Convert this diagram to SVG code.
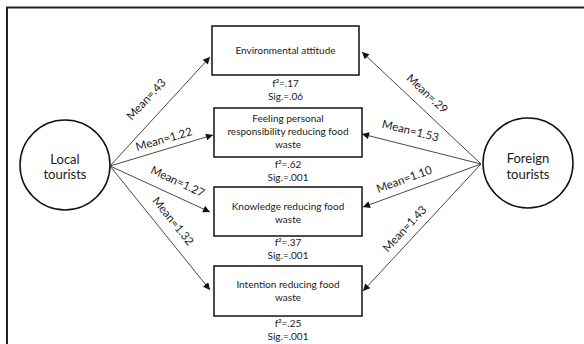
<svg xmlns="http://www.w3.org/2000/svg" width="584" height="344" viewBox="0 0 584 344">
<style>
text{font-family:Lato,"Liberation Sans",sans-serif;fill:#1a1a1a}
.box{fill:#fff;stroke:#111;stroke-width:1.5}
.circ{fill:#fff;stroke:#111;stroke-width:1.5}
.bt{font-size:10px;text-anchor:middle}
.ct{font-size:13px;text-anchor:middle}
.lab{font-size:11.5px;text-anchor:middle}
.con{stroke:#333;stroke-width:0.9;fill:none;marker-end:url(#ah)}
</style>
<defs>
<marker id="ah" viewBox="0 0 10 10" refX="10" refY="5" markerWidth="9" markerHeight="7" markerUnits="userSpaceOnUse" orient="auto">
<path d="M0,0L10,5L0,10z" fill="#111"/>
</marker>
</defs>
<rect x="0" y="0" width="584" height="344" fill="#fff"/>
<rect id="frame" x="7" y="7.5" width="620" height="400" fill="none" stroke="#222" stroke-width="2"/>
<g id="connectors">
<line class="con" x1="110" y1="166" x2="210" y2="57"/>
<line class="con" x1="110" y1="166" x2="213" y2="135"/>
<line class="con" x1="110" y1="166" x2="210" y2="212"/>
<line class="con" x1="110" y1="166" x2="210" y2="290"/>
<line class="con" x1="481" y1="164" x2="362" y2="52"/>
<line class="con" x1="481" y1="164" x2="362" y2="134"/>
<line class="con" x1="481" y1="164" x2="363" y2="207"/>
<line class="con" x1="481" y1="164" x2="363" y2="291"/>
<text class="lab" transform="translate(149,102) rotate(-47)">Mean=.43</text>
<text class="lab" transform="translate(165,143) rotate(-16)">Mean=1.22</text>
<text class="lab" transform="translate(176,185) rotate(25)">Mean=1.27</text>
<text class="lab" transform="translate(170,223.5) rotate(51)">Mean=1.32</text>
<text class="lab" transform="translate(424.5,96.5) rotate(43)">Mean=.29</text>
<text class="lab" transform="translate(409.5,134.5) rotate(14)">Mean=1.53</text>
<text class="lab" transform="translate(405.5,183) rotate(-20)">Mean=1.10</text>
<text class="lab" transform="translate(407.5,231.5) rotate(-47)">Mean=1.43</text>
</g>
<g id="local">
<circle class="circ" cx="65" cy="165" r="45"/>
<text class="ct" x="65" y="164">Local</text>
<text class="ct" x="65" y="179">tourists</text>
</g>
<g id="foreign">
<circle class="circ" cx="528" cy="163" r="45"/>
<text class="ct" x="528" y="163">Foreign</text>
<text class="ct" x="528" y="179">tourists</text>
</g>
<g id="env">
<rect class="box" x="212" y="26" width="147" height="49"/>
<text class="bt" x="285.5" y="54">Environmental attitude</text>
<text class="bt" x="285.5" y="87">f²=.17</text>
<text class="bt" x="285.5" y="100">Sig.=.06</text>
</g>
<g id="feeling">
<rect class="box" x="214" y="108" width="148" height="49"/>
<text class="bt" x="288" y="122">Feeling personal</text>
<text class="bt" x="288" y="135">responsibility reducing food</text>
<text class="bt" x="288" y="148">waste</text>
<text class="bt" x="288" y="168">f²=.62</text>
<text class="bt" x="288" y="181">Sig.=.001</text>
</g>
<g id="knowledge">
<rect class="box" x="214" y="187" width="148" height="49"/>
<text class="bt" x="288" y="210">Knowledge reducing food</text>
<text class="bt" x="288" y="223">waste</text>
<text class="bt" x="288" y="246">f²=.37</text>
<text class="bt" x="288" y="259">Sig.=.001</text>
</g>
<g id="intention">
<rect class="box" x="214" y="266" width="148" height="50"/>
<text class="bt" x="288" y="288">Intention reducing food</text>
<text class="bt" x="288" y="301">waste</text>
<text class="bt" x="288" y="327">f²=.25</text>
<text class="bt" x="288" y="340">Sig.=.001</text>
</g>
</svg>
